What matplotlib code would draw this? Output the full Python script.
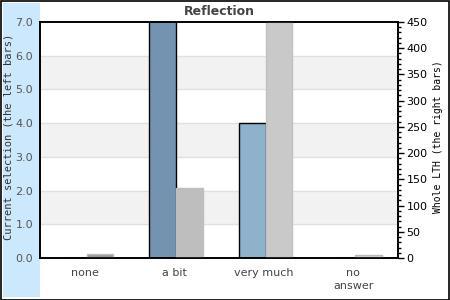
import matplotlib
matplotlib.use('Agg')
import matplotlib.pyplot as plt
from matplotlib.patches import Rectangle
from matplotlib.ticker import MultipleLocator

# Datos
categorias = ['none', 'a bit', 'very much', 'no\nanswer']
seleccion = [0, 7.5, 4.0, 0]          # barras izquierdas (eje izquierdo)
lth_total = [8, 134, 470, 6]          # barras derechas (eje derecho)
colores_izq = ['#7393b0', '#7393b0', '#8eb1cc', '#8eb1cc']
colores_der = ['#999999', '#bebebe', '#c9c9c9', '#d2d2d2']
bordes_der = ['#bbbbbb', '#bebebe', '#c0c0c0', '#bbbbbb']

fig = plt.figure(figsize=(4.5, 3), dpi=100)
fig.patches.append(Rectangle((3/450, 3/300), 37/450, 294/300, transform=fig.transFigure,
                             facecolor='#cce8fc', edgecolor='none', zorder=-2))
fig.patches.append(Rectangle((0.5/450, 0.5/300), 448.5/450, 298.5/300, transform=fig.transFigure,
                             facecolor='none', edgecolor='black', lw=1.2, zorder=-1))

ax = fig.add_axes([40/450, 42/300, 358/450, 236/300])
ax.set_xlim(-0.5, 3.5)
ax.set_ylim(0, 7)
for k in (1, 3, 5):
    ax.axhspan(k, k + 1, color='#f2f2f2', zorder=0, lw=0)
for k in range(1, 7):
    ax.axhline(k, color='#e0e0e0', lw=1, zorder=0.5)

x = list(range(len(categorias)))
ancho = 0.3
off = 0.02
ax.bar([i - ancho/2 + off for i in x], seleccion, ancho, color=colores_izq,
       edgecolor='black', lw=1, zorder=2)

ax2 = ax.twinx()
ax2.set_ylim(0, 450)
ax2.bar([i + ancho/2 + off for i in x], lth_total, ancho, color=colores_der,
        edgecolor=bordes_der, lw=1, zorder=2)

ax.set_xticks(x)
ax.set_xticklabels(categorias, fontsize=8, color='#444444', linespacing=1.35)
ax.tick_params(axis='x', length=0, pad=7)
ax.set_yticks(range(8))
ax.set_yticklabels([f'{v:.1f}' for v in range(8)], fontsize=8, color='#555555')
ax.tick_params(axis='y', length=0, pad=5)

ax2.yaxis.set_major_locator(MultipleLocator(50))
ax2.yaxis.set_minor_locator(MultipleLocator(10))
ax2.tick_params(axis='y', which='major', length=4, width=1, labelsize=8, pad=2, colors='black')
ax2.tick_params(axis='y', which='minor', length=2, width=1)

for a in (ax, ax2):
    for s in a.spines.values():
        s.set_linewidth(1.2)
        s.set_color('black')

ax.set_title('Reflection', fontsize=9, fontweight='bold', color='#444444', pad=5)
fig.text(9/450, 1 - 137/300, 'Current selection (the left bars)', rotation=90, ha='center',
         va='center', family='DejaVu Sans Mono', fontsize=7.5, color='#333333')
fig.text(438/450, 1 - 137/300, 'Whole LTH (the right bars)', rotation=90, ha='center',
         va='center', family='DejaVu Sans Mono', fontsize=7, color='black')

plt.savefig('out.png', dpi=100)
